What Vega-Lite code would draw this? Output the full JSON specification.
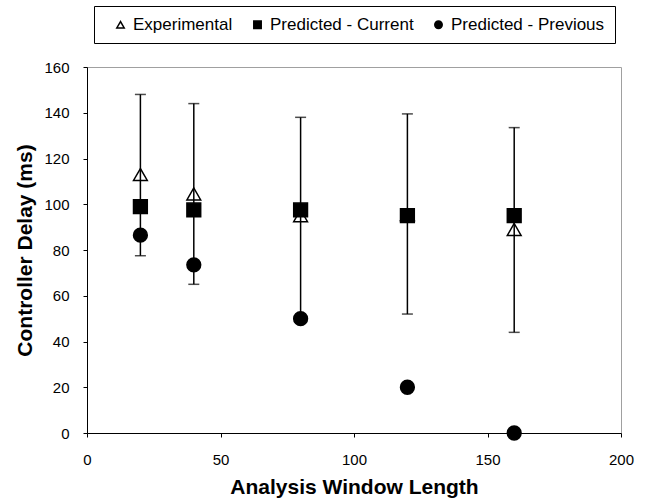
{
  "$schema": "https://vega.github.io/schema/vega-lite/v6.json",
  "width": 534,
  "height": 366,
  "autosize": "none",
  "padding": {"left": 87, "top": 67, "right": 24, "bottom": 69},
  "background": "white",
  "config": {
    "font": "Liberation Sans",
    "view": {"stroke": "#a0a0a0", "strokeWidth": 1},
    "legend": {"strokeColor": "black", "fillColor": "white"},
    "axis": {
      "grid": false,
      "domainColor": "black",
      "tickColor": "black",
      "tickSize": 4,
      "labelFontSize": 15,
      "labelColor": "black",
      "labelFlush": false,
      "titleFontSize": 21,
      "titleFontWeight": "bold",
      "titleColor": "black"
    }
  },
  "datasets": {
    "points": [
      {"x": 20, "series": "Experimental", "value": 113},
      {"x": 40, "series": "Experimental", "value": 104.5},
      {"x": 80, "series": "Experimental", "value": 95},
      {"x": 120, "series": "Experimental", "value": 95.5},
      {"x": 160, "series": "Experimental", "value": 89},
      {"x": 20, "series": "Predicted - Current", "value": 99},
      {"x": 40, "series": "Predicted - Current", "value": 97.5},
      {"x": 80, "series": "Predicted - Current", "value": 97.5},
      {"x": 120, "series": "Predicted - Current", "value": 95},
      {"x": 160, "series": "Predicted - Current", "value": 95},
      {"x": 20, "series": "Predicted - Previous", "value": 86.5},
      {"x": 40, "series": "Predicted - Previous", "value": 73.5},
      {"x": 80, "series": "Predicted - Previous", "value": 50},
      {"x": 120, "series": "Predicted - Previous", "value": 20},
      {"x": 160, "series": "Predicted - Previous", "value": 0}
    ],
    "errors": [
      {"x": 20, "lo": 77.5, "hi": 148},
      {"x": 40, "lo": 65, "hi": 144},
      {"x": 80, "lo": 51, "hi": 138},
      {"x": 120, "lo": 52, "hi": 139.5},
      {"x": 160, "lo": 44, "hi": 133.5}
    ]
  },
  "layer": [
    {
      "data": {"name": "errors"},
      "mark": {"type": "rule", "color": "black", "strokeWidth": 1.5},
      "encoding": {
        "x": {"field": "x", "type": "quantitative"},
        "y": {"field": "lo", "type": "quantitative"},
        "y2": {"field": "hi"}
      }
    },
    {
      "data": {"name": "errors"},
      "mark": {"type": "tick", "color": "black", "orient": "horizontal", "size": 11, "thickness": 1.5},
      "encoding": {
        "x": {"field": "x", "type": "quantitative"},
        "y": {"field": "hi", "type": "quantitative"}
      }
    },
    {
      "data": {"name": "errors"},
      "mark": {"type": "tick", "color": "black", "orient": "horizontal", "size": 11, "thickness": 1.5},
      "encoding": {
        "x": {"field": "x", "type": "quantitative"},
        "y": {"field": "lo", "type": "quantitative"}
      }
    },
    {
      "data": {"name": "points"},
      "mark": {"type": "point", "stroke": "black", "strokeWidth": 1.5, "opacity": 1, "filled": false, "size": 190},
      "encoding": {
        "x": {
          "field": "x", "type": "quantitative",
          "scale": {"domain": [0, 200], "nice": false, "zero": true},
          "axis": {"values": [0, 50, 100, 150, 200], "title": "Analysis Window Length", "labelPadding": 15, "titlePadding": 9}
        },
        "y": {
          "field": "value", "type": "quantitative",
          "scale": {"domain": [0, 160], "nice": false},
          "axis": {"values": [0, 20, 40, 60, 80, 100, 120, 140, 160], "title": "Controller Delay (ms)", "labelPadding": 14, "titlePadding": 8}
        },
        "shape": {
          "field": "series", "type": "nominal",
          "scale": {"domain": ["Experimental", "Predicted - Current", "Predicted - Previous"], "range": ["triangle-up", "square", "circle"]},
          "legend": {
            "title": " ",
            "titleOrient": "left",
            "titlePadding": 8,
            "orient": "none",
            "legendX": 7,
            "legendY": -61,
            "direction": "horizontal",
            "padding": 10,
            "labelFontSize": 17,
            "labelColor": "black",
            "symbolSize": 55,
            "columnPadding": 16,
            "labelOffset": 4,
            "encode": {
              "symbols": {"update": {"stroke": {"value": "black"}, "strokeWidth": {"value": 1.2}}}
            }
          }
        },
        "fill": {
          "field": "series", "type": "nominal",
          "scale": {"domain": ["Experimental", "Predicted - Current", "Predicted - Previous"], "range": ["transparent", "black", "black"]}
        },
        "order": {"field": "series"}
      }
    }
  ]
}
